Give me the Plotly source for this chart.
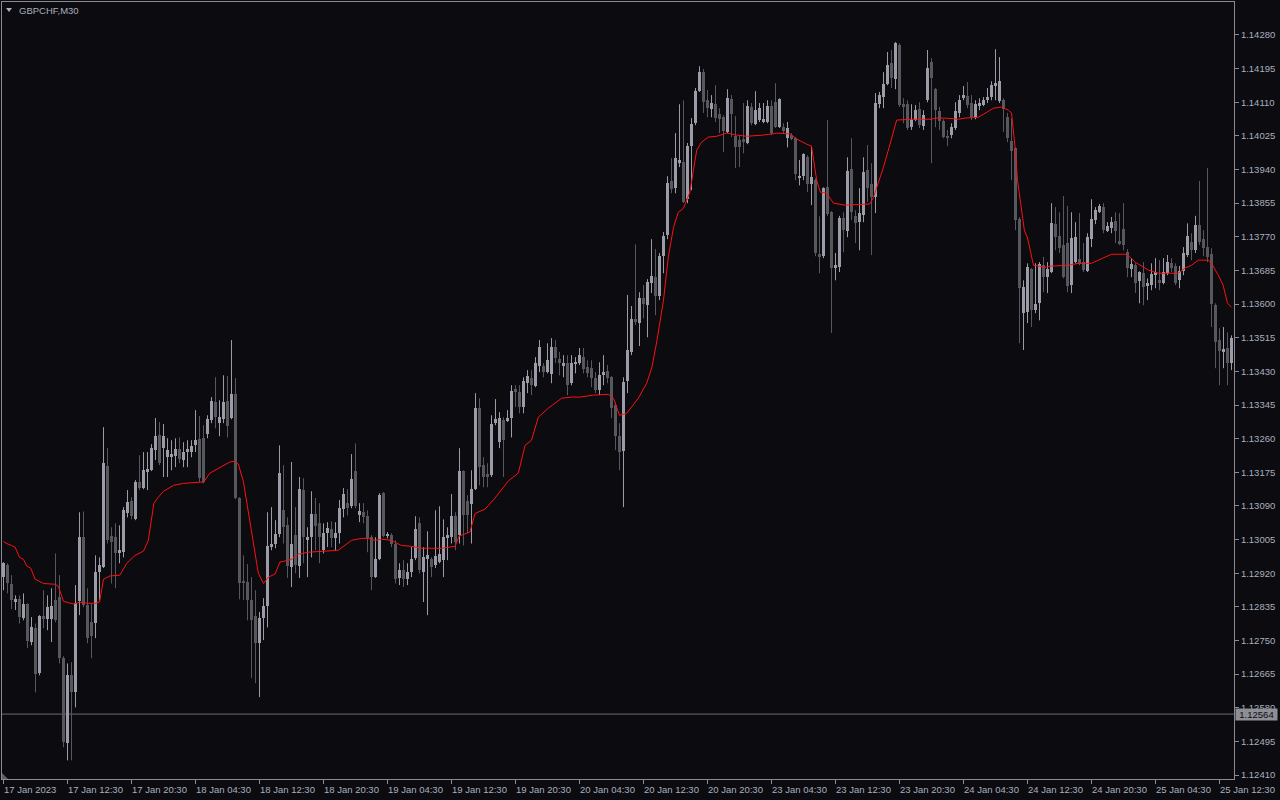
import plotly.graph_objects as go

symbol = "GBPCHF,M30"
current_price = 1.12564

bar_open = [
1.12910,1.12940,1.12892,1.12849,1.12854,1.12807,1.12842,1.12746,1.12781,1.12667,
1.12812,1.12804,1.12804,1.12852,1.12859,1.12707,1.12490,1.12662,1.12619,1.12849,
1.13011,1.12839,1.12796,1.12793,1.12923,1.12935,1.13191,1.13014,1.13011,1.12970,
1.12973,1.13071,1.13102,1.13056,1.13150,1.13135,1.13178,1.13180,1.13231,1.13268,
1.13236,1.13213,1.13213,1.13216,1.13233,1.13206,1.13228,1.13226,1.13243,1.13258,
1.13261,1.13273,1.13307,1.13352,1.13299,1.13309,1.13355,1.13312,1.13372,1.13110,
1.12900,1.12897,1.12852,1.12812,1.12743,1.12807,1.12837,1.12986,1.12993,1.13019,
1.13079,1.13041,1.12935,1.13016,1.12938,1.13130,1.13006,1.13011,1.13069,1.13046,
1.12978,1.13021,1.13031,1.13008,1.13021,1.13082,1.13097,1.13089,1.13178,1.13066,
1.13074,1.13064,1.13011,1.12910,1.12955,1.13122,1.13014,1.13016,1.12995,1.12908,
1.12928,1.12905,1.12923,1.12958,1.13046,1.12923,1.12955,1.12955,1.12940,1.12948,
1.12953,1.13008,1.13011,1.13064,1.13016,1.13178,1.13102,1.13094,1.13132,1.13337,
1.13193,1.13170,1.13168,1.13299,1.13251,1.13307,1.13307,1.13312,1.13385,1.13377,
1.13340,1.13400,1.13413,1.13393,1.13443,1.13443,1.13428,1.13423,1.13491,1.13461,
1.13446,1.13451,1.13400,1.13451,1.13451,1.13466,1.13440,1.13438,1.13413,1.13382,
1.13420,1.13430,1.13415,1.13345,1.13266,1.13228,1.13405,1.13479,1.13562,1.13552,
1.13615,1.13597,1.13653,1.13668,1.13620,1.13721,1.13774,1.13911,1.13893,1.13956,
1.13959,1.13865,1.13999,1.14057,1.14138,1.14186,1.14115,1.14093,1.14105,1.14080,
1.14072,1.14035,1.14118,1.14024,1.14014,1.14017,1.14007,1.14098,1.14055,1.14065,
1.14062,1.14060,1.14100,1.14110,1.14047,1.14047,1.14019,1.14027,1.14019,1.13921,
1.13923,1.13971,1.13903,1.13913,1.13726,1.13721,1.13895,1.13832,1.13691,1.13693,
1.13817,1.13784,1.13941,1.13822,1.13807,1.13825,1.13938,1.13903,1.13870,1.14105,
1.14123,1.14156,1.14209,1.14168,1.14254,1.14105,1.14105,1.14047,1.14065,1.14093,
1.14050,1.14115,1.14211,1.14143,1.14088,1.14062,1.14024,1.14027,1.14045,1.14083,
1.14120,1.14125,1.14108,1.14072,1.14103,1.14103,1.14115,1.14123,1.14153,1.14113,
1.14115,1.14072,1.14012,1.13994,1.13815,1.13577,1.13580,1.13688,1.13585,1.13602,
1.13698,1.13668,1.13681,1.13802,1.13772,1.13749,1.13754,1.13648,1.13706,1.13714,
1.13706,1.13683,1.13764,1.13812,1.13832,1.13845,1.13784,1.13792,1.13810,1.13759,
1.13789,1.13731,1.13688,1.13698,1.13658,1.13678,1.13645,1.13648,1.13673,1.13660,
1.13653,1.13678,1.13703,1.13696,1.13660,1.13683,1.13724,1.13756,1.13736,1.13799,
1.13764,1.13744,1.13726,1.13597,1.13509,1.13479,1.13489,1.13451]

bar_high = [
1.12948,1.12945,1.12915,1.12864,1.12864,1.12869,1.12844,1.12809,1.12793,1.12814,
1.12877,1.12864,1.12882,1.12970,1.12915,1.12710,1.12692,1.12695,1.12890,1.13074,
1.13076,1.12882,1.12842,1.12965,1.12960,1.13289,1.13236,1.13036,1.13046,1.13041,
1.13087,1.13130,1.13112,1.13155,1.13218,1.13226,1.13226,1.13246,1.13312,1.13302,
1.13297,1.13261,1.13256,1.13261,1.13263,1.13251,1.13256,1.13256,1.13332,1.13317,
1.13294,1.13319,1.13365,1.13415,1.13357,1.13420,1.13418,1.13509,1.13413,1.13112,
1.12965,1.12943,1.12910,1.12877,1.12822,1.12857,1.13074,1.13087,1.13054,1.13243,
1.13193,1.13061,1.13201,1.13087,1.13163,1.13160,1.13036,1.13127,1.13110,1.13097,
1.13046,1.13049,1.13051,1.13049,1.13105,1.13135,1.13132,1.13221,1.13248,1.13097,
1.13097,1.13079,1.13016,1.13011,1.13122,1.13125,1.13024,1.13021,1.13003,1.12945,
1.12953,1.12945,1.12986,1.13064,1.13061,1.12986,1.13026,1.12960,1.13079,1.13089,
1.13056,1.13036,1.13120,1.13074,1.13236,1.13180,1.13117,1.13180,1.13375,1.13362,
1.13213,1.13198,1.13319,1.13360,1.13327,1.13314,1.13332,1.13395,1.13395,1.13395,
1.13415,1.13433,1.13433,1.13466,1.13509,1.13451,1.13501,1.13514,1.13509,1.13479,
1.13471,1.13471,1.13471,1.13466,1.13489,1.13489,1.13458,1.13458,1.13428,1.13453,
1.13471,1.13446,1.13418,1.13352,1.13299,1.13415,1.13623,1.13595,1.13751,1.13630,
1.13648,1.13663,1.13764,1.13739,1.13729,1.13782,1.13923,1.13969,1.14032,1.14105,
1.14115,1.14007,1.14070,1.14146,1.14201,1.14194,1.14141,1.14128,1.14153,1.14095,
1.14077,1.14143,1.14128,1.14075,1.14027,1.14108,1.14115,1.14108,1.14138,1.14108,
1.14108,1.14115,1.14115,1.14158,1.14120,1.14057,1.14060,1.14032,1.14022,1.13964,
1.13981,1.13976,1.13999,1.13918,1.13822,1.13895,1.14065,1.13835,1.13729,1.13823,
1.13832,1.13971,1.14019,1.13837,1.13893,1.13971,1.14002,1.13956,1.14133,1.14136,
1.14186,1.14237,1.14242,1.14262,1.14259,1.14120,1.14115,1.14105,1.14103,1.14110,
1.14090,1.14242,1.14221,1.14146,1.14098,1.14067,1.14040,1.14057,1.14110,1.14128,
1.14151,1.14161,1.14128,1.14115,1.14120,1.14123,1.14146,1.14163,1.14244,1.14224,
1.14120,1.14083,1.14070,1.13996,1.13820,1.13660,1.13703,1.13691,1.13703,1.13706,
1.13719,1.13706,1.13855,1.13845,1.13832,1.13873,1.13848,1.13832,1.13807,1.13830,
1.13754,1.13779,1.13865,1.13845,1.13853,1.13855,1.13807,1.13820,1.13832,1.13830,
1.13855,1.13739,1.13716,1.13703,1.13683,1.13706,1.13665,1.13703,1.13716,1.13711,
1.13716,1.13724,1.13716,1.13703,1.13696,1.13744,1.13804,1.13779,1.13823,1.13911,
1.13787,1.13944,1.13741,1.13602,1.13539,1.13542,1.13529,1.13521]

bar_low = [
1.12877,1.12869,1.12829,1.12827,1.12793,1.12801,1.12731,1.12738,1.12619,1.12662,
1.12781,1.12776,1.12746,1.12796,1.12692,1.12480,1.12447,1.12447,1.12581,1.12814,
1.12834,1.12743,1.12705,1.12756,1.12852,1.12933,1.12995,1.12894,1.12882,1.12945,
1.12960,1.13061,1.13056,1.13054,1.13130,1.13132,1.13130,1.13178,1.13206,1.13193,
1.13163,1.13163,1.13180,1.13188,1.13198,1.13188,1.13188,1.13213,1.13226,1.13150,
1.13147,1.13261,1.13299,1.13286,1.13266,1.13299,1.13263,1.13309,1.13107,1.12854,
1.12852,1.12801,1.12655,1.12642,1.12607,1.12751,1.12783,1.12978,1.12983,1.13011,
1.12995,1.12908,1.12885,1.12920,1.12908,1.12945,1.12910,1.12960,1.12978,1.12945,
1.12970,1.12986,1.12986,1.12978,1.12995,1.13061,1.13066,1.13084,1.13084,1.13049,
1.13046,1.12973,1.12877,1.12908,1.12953,1.13011,1.13008,1.12986,1.12894,1.12890,
1.12885,1.12890,1.12910,1.12953,1.12920,1.12847,1.12814,1.12910,1.12933,1.12945,
1.12910,1.12953,1.12995,1.12978,1.12995,1.12990,1.13021,1.12995,1.13130,1.13142,
1.13137,1.13137,1.13163,1.13294,1.13236,1.13163,1.13302,1.13263,1.13340,1.13324,
1.13324,1.13375,1.13370,1.13390,1.13428,1.13415,1.13425,1.13400,1.13451,1.13420,
1.13415,1.13370,1.13395,1.13425,1.13446,1.13425,1.13415,1.13390,1.13375,1.13370,
1.13395,1.13400,1.13312,1.13231,1.13180,1.13087,1.13375,1.13471,1.13547,1.13494,
1.13564,1.13516,1.13628,1.13572,1.13610,1.13678,1.13764,1.13880,1.13880,1.13946,
1.13855,1.13855,1.13888,1.14052,1.14136,1.14083,1.14072,1.14072,1.14060,1.14032,
1.13984,1.14032,1.14022,1.13944,1.13946,1.13981,1.14004,1.14052,1.14052,1.14060,
1.14057,1.14057,1.14027,1.14045,1.14045,1.14032,1.13996,1.14014,1.13913,1.13900,
1.13913,1.13883,1.13850,1.13721,1.13678,1.13716,1.13822,1.13527,1.13660,1.13681,
1.13731,1.13769,1.13812,1.13754,1.13736,1.13807,1.13858,1.13724,1.13830,1.14095,
1.14095,1.14153,1.14146,1.14143,1.14098,1.14057,1.14040,1.14040,1.14062,1.14045,
1.14040,1.14110,1.13956,1.14047,1.14040,1.14019,1.13999,1.14019,1.14040,1.14072,
1.14115,1.14095,1.14065,1.14067,1.14090,1.14100,1.14108,1.14115,1.14115,1.14108,
1.14035,1.14009,1.13913,1.13787,1.13501,1.13484,1.13552,1.13542,1.13577,1.13559,
1.13630,1.13628,1.13678,1.13736,1.13729,1.13665,1.13630,1.13628,1.13703,1.13698,
1.13681,1.13681,1.13744,1.13802,1.13830,1.13779,1.13782,1.13779,1.13754,1.13749,
1.13736,1.13668,1.13668,1.13628,1.13602,1.13597,1.13610,1.13635,1.13640,1.13635,
1.13650,1.13673,1.13681,1.13648,1.13640,1.13673,1.13719,1.13711,1.13729,1.13749,
1.13721,1.13706,1.13542,1.13438,1.13395,1.13438,1.13395,1.13433]

bar_close = [
1.12945,1.12894,1.12852,1.12854,1.12809,1.12842,1.12748,1.12783,1.12665,1.12812,
1.12804,1.12834,1.12837,1.12801,1.12705,1.12493,1.12662,1.12621,1.12844,1.13011,
1.12839,1.12756,1.12761,1.12923,1.12940,1.13198,1.13003,1.13000,1.12970,1.12978,
1.13079,1.13100,1.13064,1.13150,1.13135,1.13180,1.13183,1.13236,1.13266,1.13198,
1.13266,1.13231,1.13221,1.13233,1.13208,1.13226,1.13233,1.13241,1.13256,1.13160,
1.13150,1.13309,1.13355,1.13314,1.13314,1.13352,1.13292,1.13372,1.13110,1.12894,
1.12894,1.12852,1.12801,1.12743,1.12807,1.12837,1.12988,1.12993,1.13019,1.13173,
1.13036,1.12938,1.12995,1.12940,1.13132,1.13011,1.13011,1.13069,1.13039,1.13011,
1.13021,1.13034,1.13008,1.13021,1.13084,1.13120,1.13084,1.13158,1.13089,1.13076,
1.13061,1.13008,1.12910,1.12955,1.13117,1.13014,1.13019,1.12995,1.12905,1.12928,
1.12905,1.12923,1.12955,1.13031,1.12928,1.12960,1.12965,1.12935,1.12963,1.12968,
1.13011,1.13016,1.13064,1.12998,1.13178,1.13066,1.13066,1.13132,1.13337,1.13188,
1.13163,1.13163,1.13297,1.13309,1.13312,1.13256,1.13312,1.13380,1.13377,1.13340,
1.13405,1.13418,1.13395,1.13451,1.13491,1.13428,1.13458,1.13491,1.13463,1.13451,
1.13451,1.13395,1.13451,1.13453,1.13471,1.13435,1.13425,1.13413,1.13382,1.13420,
1.13428,1.13413,1.13337,1.13266,1.13226,1.13403,1.13484,1.13562,1.13557,1.13615,
1.13600,1.13655,1.13671,1.13620,1.13721,1.13772,1.13906,1.13890,1.13969,1.13964,
1.13858,1.13999,1.14055,1.14138,1.14186,1.14110,1.14095,1.14108,1.14070,1.14067,
1.14037,1.14120,1.14080,1.13996,1.13996,1.14009,1.14100,1.14057,1.14090,1.14095,
1.14067,1.14100,1.14032,1.14047,1.14118,1.14037,1.14045,1.14017,1.13928,1.13923,
1.13979,1.13903,1.13921,1.13729,1.13721,1.13893,1.13827,1.13691,1.13698,1.13817,
1.13787,1.13936,1.13832,1.13804,1.13830,1.13933,1.13893,1.13870,1.14108,1.14128,
1.14156,1.14204,1.14171,1.14259,1.14103,1.14098,1.14045,1.14065,1.14090,1.14052,
1.14077,1.14196,1.14171,1.14090,1.14062,1.14022,1.14022,1.14047,1.14088,1.14115,
1.14128,1.14103,1.14072,1.14105,1.14108,1.14115,1.14123,1.14153,1.14158,1.14163,
1.14093,1.14019,1.13986,1.13812,1.13640,1.13643,1.13693,1.13585,1.13600,1.13701,
1.13668,1.13688,1.13804,1.13769,1.13741,1.13668,1.13645,1.13767,1.13769,1.13701,
1.13686,1.13769,1.13815,1.13837,1.13848,1.13787,1.13797,1.13807,1.13784,1.13754,
1.13749,1.13691,1.13701,1.13653,1.13681,1.13643,1.13653,1.13676,1.13681,1.13655,
1.13681,1.13706,1.13691,1.13653,1.13683,1.13729,1.13772,1.13736,1.13799,1.13756,
1.13741,1.13719,1.13600,1.13504,1.13481,1.13486,1.13451,1.13514]

# red indicator line, read at bar positions
ma_bar = [0, 0.8, 2, 2.9, 4, 5, 5.8, 6.8, 7.9, 10, 12.9, 13.7, 15, 17.5, 19.1, 21, 22.9, 24, 25, 26.6,
          29.1, 30.8, 32.9, 35, 36.2, 37.6, 38.7, 40, 42.5, 45, 49.1, 50, 51.6, 54.1, 56.6, 57.9, 58.7, 60, 61.2, 62.5,
          63.7, 65, 66.2, 67.9, 69.1, 70, 72, 73.7, 76.2, 83.7, 87, 89.5, 91.2, 92.9, 94.5, 97, 99.5, 102, 104.5, 109.5,
          112.9, 113.9, 116.6, 117.9, 120.4, 122.9, 126.2, 128.7, 130.4, 132, 133.7, 136.2, 139.5, 142, 144.1, 147.5, 151.2, 152.5, 154, 155.8,
          158.7, 160.8, 162.1, 163.3, 165, 166.2, 167.5, 168.7, 170, 171.6, 173.3, 174.5, 176.2, 178.3, 180.8, 183.3, 185.8, 190, 193.3, 196.7,
          198.3, 200.8, 202, 203.3, 204.2, 205.8, 207.5, 210.4, 216.6, 217.5, 218.7, 220, 221.4, 222.5, 223.3, 227, 232, 232.9, 235.4, 238.7,
          240.4, 243.7, 245.4, 247.5, 249.5, 251.2, 252, 252.9, 253.5, 254.5, 255.2, 256, 257.5, 260.4, 262, 266.2, 268.7, 272, 274.5, 277,
          280.4, 281.6, 282.9, 284.5, 286.2, 288.7, 291.2, 293.7, 295.4, 297, 298.7, 301.2, 302, 303.7, 304.9, 306, 307]
ma_value = [1.13000, 1.12995, 1.12990, 1.12986, 1.12960, 1.12955, 1.12938, 1.12933, 1.12905, 1.12894,
            1.12892, 1.12887, 1.12849, 1.12842, 1.12847, 1.12844, 1.12844, 1.12847, 1.12905, 1.12913,
            1.12915, 1.12945, 1.12965, 1.12976, 1.13003, 1.13097, 1.13112, 1.13127, 1.13142, 1.13147,
            1.13150, 1.13150, 1.13173, 1.13188, 1.13201, 1.13203, 1.13196, 1.13150, 1.13079, 1.12995,
            1.12920, 1.12894, 1.12910, 1.12918, 1.12948, 1.12950, 1.12955, 1.12968, 1.12973, 1.12978,
            1.13003, 1.13008, 1.13008, 1.13003, 1.13006, 1.13003, 1.12990, 1.12988, 1.12983, 1.12983,
            1.12988, 1.13014, 1.13024, 1.13071, 1.13082, 1.13110, 1.13153, 1.13173, 1.13243, 1.13256,
            1.13314, 1.13337, 1.13362, 1.13365, 1.13365, 1.13370, 1.13372, 1.13362, 1.13319, 1.13324,
            1.13362, 1.13400, 1.13440, 1.13504, 1.13610, 1.13719, 1.13794, 1.13832, 1.13842, 1.13883,
            1.13989, 1.14009, 1.14022, 1.14024, 1.14032, 1.14027, 1.14024, 1.14027, 1.14032, 1.14030,
            1.14017, 1.14004, 1.13999, 1.13913, 1.13883, 1.13880, 1.13855, 1.13850, 1.13853, 1.13870,
            1.13906, 1.13946, 1.13996, 1.14040, 1.14065, 1.14067, 1.14067, 1.14070, 1.14070, 1.14067,
            1.14070, 1.14072, 1.14083, 1.14095, 1.14098, 1.14090, 1.14083, 1.13996, 1.13913, 1.13845,
            1.13787, 1.13767, 1.13698, 1.13693, 1.13696, 1.13698, 1.13703, 1.13703, 1.13714, 1.13726,
            1.13726, 1.13719, 1.13706, 1.13696, 1.13686, 1.13678, 1.13678, 1.13678, 1.13691, 1.13698,
            1.13711, 1.13711, 1.13703, 1.13673, 1.13648, 1.13602, 1.13592]

time_labels = ["17 Jan 2023", "17 Jan 12:30", "17 Jan 20:30", "18 Jan 04:30", "18 Jan 12:30",
               "18 Jan 20:30", "19 Jan 04:30", "19 Jan 12:30", "19 Jan 20:30", "20 Jan 04:30",
               "20 Jan 12:30", "20 Jan 20:30", "23 Jan 04:30", "23 Jan 12:30", "23 Jan 20:30",
               "24 Jan 04:30", "24 Jan 12:30", "24 Jan 20:30", "25 Jan 04:30", "25 Jan 12:30"]
time_label_bar = [0, 16, 32, 48, 64, 80, 96, 112, 128, 144, 160, 176, 192, 208, 224, 240, 256, 272, 288, 304]

price_ticks = [1.14280, 1.14195, 1.14110, 1.14025, 1.13940, 1.13855, 1.13770, 1.13685, 1.13600, 1.13515,
               1.13430, 1.13345, 1.13260, 1.13175, 1.13090, 1.13005, 1.12920, 1.12835, 1.12750, 1.12665,
               1.12580, 1.12495, 1.12410]

# ---- styling ----
BG = "#0b0b10"
AX = "#8a8a93"
TXT = "#a9b0bf"
BULL = "#9c9ca8"
BEAR = "#57575e"
RED = "#ff1010"
FONT = "Liberation Sans"

W, H = 1280, 800
L_PX, R_PX, T_PX, B_PX = 2, 1234, 2, 779

n = len(bar_open)
bull_idx = [i for i in range(n) if bar_close[i] >= bar_open[i]]
bear_idx = [i for i in range(n) if bar_close[i] < bar_open[i]]
MIN_BODY = 0.00003

fig = go.Figure()


def wick_trace(idx, color):
    xs, ys = [], []
    for i in idx:
        xs += [i, i, None]
        ys += [bar_low[i], bar_high[i], None]
    return go.Scatter(x=xs, y=ys, mode="lines", line=dict(color=color, width=1),
                      hoverinfo="skip", showlegend=False)


def body_trace(idx, color):
    base = [min(bar_open[i], bar_close[i]) for i in idx]
    hgt = [max(abs(bar_close[i] - bar_open[i]), MIN_BODY) for i in idx]
    return go.Bar(x=idx, y=hgt, base=base, width=0.72,
                  marker=dict(color=color, line=dict(width=0)),
                  hoverinfo="skip", showlegend=False)


fig.add_trace(body_trace(bear_idx, BEAR))
fig.add_trace(body_trace(bull_idx, BULL))
fig.add_trace(wick_trace(bear_idx, BEAR))
fig.add_trace(wick_trace(bull_idx, BULL))
fig.add_trace(go.Scatter(x=ma_bar, y=ma_value, mode="lines",
                         line=dict(color=RED, width=1), hoverinfo="skip", showlegend=False))

x0 = -0.375
x1 = x0 + (R_PX - L_PX) / 4.0


def px_to_paper_x(px):
    return (px - L_PX) / (R_PX - L_PX)


def px_to_paper_y(py):
    return (B_PX - py) / (B_PX - T_PX)


fig.update_layout(
    width=W, height=H,
    margin=dict(l=L_PX, r=W - R_PX, t=T_PX, b=H - B_PX, pad=0, autoexpand=False),
    paper_bgcolor=BG, plot_bgcolor=BG,
    barmode="overlay", bargap=0,
    showlegend=False,
    font=dict(family=FONT, size=9.5, color=TXT),
    xaxis=dict(range=[x0, x1], showgrid=False, zeroline=False,
               showline=True, linecolor=AX, linewidth=1, mirror=True,
               tickmode="array", tickvals=time_label_bar, ticks="outside",
               ticklen=4, tickcolor=AX, tickwidth=1, showticklabels=False,
               fixedrange=True),
    yaxis=dict(side="right", range=[1.12400, 1.143633], showgrid=False, zeroline=False,
               showline=True, linecolor=AX, linewidth=1, mirror=True,
               tickmode="array", tickvals=price_ticks,
               ticktext=[f"{v:.5f}" for v in price_ticks],
               ticks="outside", ticklen=4, tickcolor=AX, tickwidth=1,
               tickfont=dict(family=FONT, size=9.5, color=TXT),
               fixedrange=True),
)

# current price line
fig.add_shape(type="line", xref="paper", yref="y", x0=0, x1=1,
              y0=current_price, y1=current_price,
              line=dict(color="#6c6c75", width=1), layer="below")

annotations = []
for lbl, b in zip(time_labels, time_label_bar):
    annotations.append(dict(x=b, y=0, xref="x", yref="paper", text=lbl,
                            xanchor="left", yanchor="top", yshift=-3, xshift=-2,
                            showarrow=False,
                            font=dict(family=FONT, size=9.5, color=TXT)))

annotations.append(dict(x=1, y=current_price, xref="paper", yref="y",
                        text=f"{current_price:.5f}", xanchor="left", yanchor="middle",
                        xshift=1, showarrow=False, bgcolor="#8e8e96",
                        width=41, height=11, borderpad=0, align="center",
                        font=dict(family=FONT, size=9.5, color="#0b0b10")))

annotations.append(dict(x=px_to_paper_x(17), y=px_to_paper_y(10), xref="paper", yref="paper",
                        text=symbol, xanchor="left", yanchor="middle", showarrow=False,
                        font=dict(family=FONT, size=9.5, color=TXT)))
fig.update_layout(annotations=annotations)

# small triangle before the symbol name
tx = [px_to_paper_x(v) for v in (6, 12, 9)]
ty = [px_to_paper_y(v) for v in (8, 8, 12)]
fig.add_shape(type="path", xref="paper", yref="paper",
              path=f"M {tx[0]} {ty[0]} L {tx[1]} {ty[1]} L {tx[2]} {ty[2]} Z",
              fillcolor=TXT, line=dict(width=0))

# small corner marker at the bottom-left
cx = [px_to_paper_x(v) for v in (2, 2, 8)]
cy = [px_to_paper_y(v) for v in (773, 779, 779)]
fig.add_shape(type="path", xref="paper", yref="paper",
              path=f"M {cx[0]} {cy[0]} L {cx[1]} {cy[1]} L {cx[2]} {cy[2]} Z",
              fillcolor="#5e5e66", line=dict(width=0))

fig.write_html(
    "out.html",
    config={"displayModeBar": False, "staticPlot": False},
    post_script="document.body.style.margin='0';document.body.style.padding='0';"
                "document.body.style.background='" + BG + "';",
)
